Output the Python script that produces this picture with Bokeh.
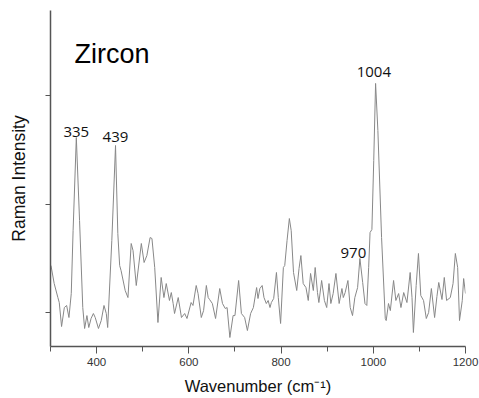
from bokeh.plotting import figure
from bokeh.models import Range1d, FixedTicker, ColumnDataSource
from bokeh.core.properties import value
from bokeh.embed import file_html
from bokeh.resources import INLINE

wavenumber = [301, 308, 316, 319, 324, 330, 335, 340, 345, 349, 356, 363, 370, 374, 379, 383,
              388, 393, 397, 404, 410, 416, 421, 424, 433, 441, 446, 450, 453, 462, 468, 475,
              479, 486, 497, 503, 509, 516, 520, 526, 533, 540, 546, 551, 558, 562, 566, 569,
              577, 584, 591, 596, 605, 609, 616, 620, 627, 632, 638, 642, 645, 651, 658, 667,
              673, 679, 683, 689, 696, 700, 708, 714, 721, 727, 734, 740, 747, 750, 754, 759,
              763, 768, 772, 776, 779, 784, 790, 794, 799, 805, 808, 813, 818, 822, 827, 834,
              839, 843, 848, 854, 859, 864, 870, 874, 879, 882, 888, 894, 899, 904, 908, 913,
              919, 926, 932, 935, 939, 945, 950, 955, 960, 966, 971, 977, 982, 986, 990, 993,
              997, 1001, 1005, 1010, 1018, 1026, 1028, 1033, 1037, 1044, 1049, 1055, 1060, 1066,
              1073, 1080, 1084, 1087, 1093, 1098, 1103, 1109, 1115, 1120, 1126, 1133, 1138, 1142,
              1149, 1154, 1159, 1167, 1173, 1178, 1183, 1187, 1193, 1196, 1200]
intensity = [1433, 1267, 1138, 1092, 871, 1046, 1065, 954, 1175, 1756, 2613, 1848, 1046, 853, 972, 862,
             945, 991, 954, 853, 926, 1065, 991, 862, 1664, 2539, 1728, 1433, 1387, 1203, 1138, 1636,
             1571, 1249, 1636, 1461, 1525, 1691, 1682, 1415, 908, 1323, 1138, 1267, 1111, 1184, 1083, 991,
             1138, 954, 991, 945, 1092, 1065, 1249, 1175, 954, 1018, 1249, 1138, 1120, 1083, 945, 1221,
             1083, 1037, 1046, 770, 972, 972, 1295, 991, 954, 834, 991, 1046, 1230, 1129, 1221, 1249,
             1138, 1083, 1111, 1046, 1092, 1129, 1369, 1138, 899, 1415, 1433, 1664, 1866, 1756, 1369, 1203,
             1406, 1525, 1267, 1230, 1111, 1360, 1203, 1415, 1184, 1092, 1295, 1111, 1046, 1267, 1083, 1175,
             1360, 1083, 1221, 1138, 1184, 1295, 1046, 972, 1138, 1230, 1498, 1277, 1083, 1065, 1415, 1737,
             1765, 2401, 3111, 2677, 1691, 945, 926, 1083, 1018, 1295, 1111, 1175, 1046, 1184,
             1092, 1369, 1138, 816, 1249, 1544, 1157, 1111, 945, 1000, 1221, 954, 1147, 1277,
             1120, 1323, 1111, 1138, 1267, 1544, 1415, 926, 1111, 1313, 1175]

x_major_ticks = [400, 600, 800, 1000, 1200]
x_minor_ticks = [300, 500, 700, 900, 1100]
y_ticks = [1000, 2000, 3000]

peak_labels = ["335", "439", "1004", "970"]
peak_label_x = [328, 413, 964, 929]
peak_label_y = [2659, 2622, 3212, 1544]

title_text = ["Zircon"]
title_x = [352]
title_y = [3378]

p = figure(width=479, height=398, output_backend="svg", toolbar_location=None,
           x_range=Range1d(300, 1200), y_range=Range1d(687, 3783),
           min_border_left=50, min_border_right=14, min_border_top=10, min_border_bottom=52)
p.outline_line_color = None
p.xgrid.visible = False
p.ygrid.visible = False
p.background_fill_color = "white"

p.line(wavenumber, intensity, line_color="#888888", line_width=1)

src = ColumnDataSource(dict(x=peak_label_x, y=peak_label_y, t=peak_labels))
p.text(x="x", y="y", text="t", source=src, text_font=value("Open Sans"),
       text_font_size="15px", text_color="#111111", text_align="left", text_baseline="alphabetic")
p.text(x=title_x, y=title_y, text=title_text, text_font=value("Liberation Sans"),
       text_font_size="27px", text_color="#000000", text_align="left", text_baseline="alphabetic")

ax = p.xaxis[0]
ax.ticker = FixedTicker(ticks=x_major_ticks, minor_ticks=x_minor_ticks)
ax.axis_label = "Wavenumber (cm\u207b\u00b9)"
ax.axis_label_text_font = "Liberation Sans"
ax.axis_label_text_font_size = "16.5px"
ax.axis_label_text_font_style = "normal"
ax.axis_label_text_color = "#111111"
ax.axis_label_standoff = 8
ax.major_label_text_font = "Liberation Sans"
ax.major_label_text_font_size = "11.5px"
ax.major_label_text_color = "#333333"
ax.major_label_standoff = 4
ax.major_tick_out = 7
ax.major_tick_in = 0
ax.minor_tick_out = 5
ax.minor_tick_in = 0
ax.axis_line_color = "#555555"
ax.axis_line_width = 1.5
ax.major_tick_line_color = "#555555"
ax.minor_tick_line_color = "#555555"

ay = p.yaxis[0]
ay.ticker = FixedTicker(ticks=y_ticks, minor_ticks=[])
ay.major_label_overrides = {t: "" for t in y_ticks}
ay.major_label_standoff = 0
ay.axis_label = "Raman Intensity"
ay.axis_label_text_font = "Liberation Sans"
ay.axis_label_text_font_size = "17.5px"
ay.axis_label_text_font_style = "normal"
ay.axis_label_text_color = "#111111"
ay.axis_label_standoff = 17
ay.major_tick_out = 5
ay.major_tick_in = 0
ay.axis_line_color = "#555555"
ay.axis_line_width = 1.5
ay.major_tick_line_color = "#555555"

open("out.html", "w").write(file_html(p, INLINE))
